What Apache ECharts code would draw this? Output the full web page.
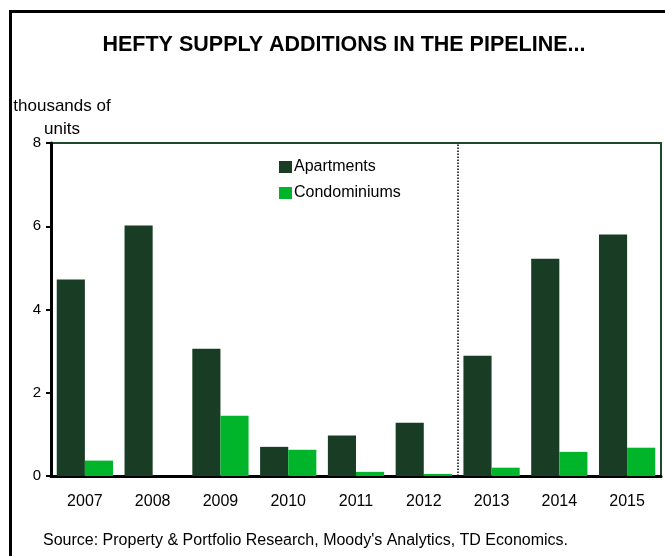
<!DOCTYPE html>
<html>
<head>
<meta charset="utf-8">
<script src="https://cdn.jsdelivr.net/npm/echarts@6/dist/echarts.min.js"></script>
<style>
  html, body { margin: 0; padding: 0; background: #fff; }
  #chart { width: 665px; height: 556px; }
</style>
</head>
<body>
<div id="chart"></div>
<script>
// Construction pipeline, thousands of units
const years = ['2007', '2008', '2009', '2010', '2011', '2012', '2013', '2014', '2015'];
const apartments = [4.72, 6.02, 3.06, 0.70, 0.97, 1.28, 2.89, 5.22, 5.80];
const condominiums = [0.37, 0, 1.45, 0.63, 0.10, 0.05, 0.20, 0.58, 0.68];
const yTicks = [0, 2, 4, 6, 8];
const forecastStart = 6; // boundary before 2013

const FONT = '"Liberation Sans", Arial, sans-serif';
const chart = echarts.init(document.getElementById('chart'), null, { renderer: 'canvas' });

chart.setOption({
  animation: false,
  backgroundColor: '#fff',
  textStyle: { fontFamily: FONT },
  title: {
    text: 'HEFTY SUPPLY ADDITIONS IN THE PIPELINE...',
    left: 339,
    top: 29,
    textAlign: 'center',
    textStyle: { fontFamily: FONT, fontWeight: 'bold', fontSize: 21.5, color: '#000' }
  },
  legend: {
    orient: 'vertical',
    left: 274,
    top: 154,
    itemWidth: 13,
    itemHeight: 12,
    itemGap: 10,
    icon: 'rect',
    textStyle: { fontFamily: FONT, fontSize: 16, color: '#000', padding: [0, 0, 0, -3] },
    data: ['Apartments', 'Condominiums']
  },
  grid: {
    left: 51, right: 4, top: 143, bottom: 80,
    show: true,
    borderColor: '#1e4a2c',
    borderWidth: 2,
    backgroundColor: '#fff'
  },
  xAxis: [
    {
      type: 'category',
      data: years,
      axisLine: { show: true, lineStyle: { color: '#000', width: 3 } },
      axisTick: { show: false },
      axisLabel: { fontFamily: FONT, fontSize: 16, color: '#000', margin: 18 },
      splitLine: { show: false }
    },
    {
      // plain index scale used to place the forecast divider between categories
      type: 'value',
      min: 0,
      max: years.length,
      show: false
    }
  ],
  yAxis: {
    type: 'value',
    min: 0,
    max: 8,
    interval: 2,
    axisLine: { show: true, lineStyle: { color: '#000', width: 3 } },
    axisTick: { show: true, inside: false, length: 5, lineStyle: { color: '#000', width: 2 } },
    axisLabel: {
      fontFamily: FONT, fontSize: 15, color: '#000', margin: 10,
      formatter: function (v) { return yTicks.indexOf(v) >= 0 ? String(v) : ''; }
    },
    splitLine: { show: false }
  },
  series: [
    {
      name: 'Apartments',
      type: 'bar',
      data: apartments,
      itemStyle: { color: '#183d24' },
      barGap: '0%',
      barCategoryGap: '17%'
    },
    {
      name: 'Condominiums',
      type: 'bar',
      data: condominiums,
      itemStyle: { color: '#00b52a' }
    },
    {
      name: 'divider',
      type: 'line',
      xAxisIndex: 1,
      data: [],
      silent: true,
      markLine: {
        silent: true,
        symbol: 'none',
        label: { show: false },
        lineStyle: { color: '#000', type: [1.5, 1.5], width: 1.5 },
        data: [{ xAxis: forecastStart }]
      }
    }
  ],
  graphic: [
    {
      type: 'rect',
      shape: { x: 10.5, y: 11.5, width: 700, height: 600 },
      style: { fill: 'none', stroke: '#000', lineWidth: 3 },
      z: 100
    },
    {
      type: 'text',
      x: 62, y: 95,
      style: {
        text: 'thousands of\nunits',
        font: '17px ' + FONT,
        fill: '#000',
        textAlign: 'center',
        lineHeight: 23
      }
    },
    {
      type: 'text',
      x: 43, y: 533,
      style: {
        text: "Source: Property & Portfolio Research, Moody's Analytics, TD Economics.",
        font: '16px ' + FONT,
        fill: '#000'
      }
    }
  ]
});
</script>
</body>
</html>
